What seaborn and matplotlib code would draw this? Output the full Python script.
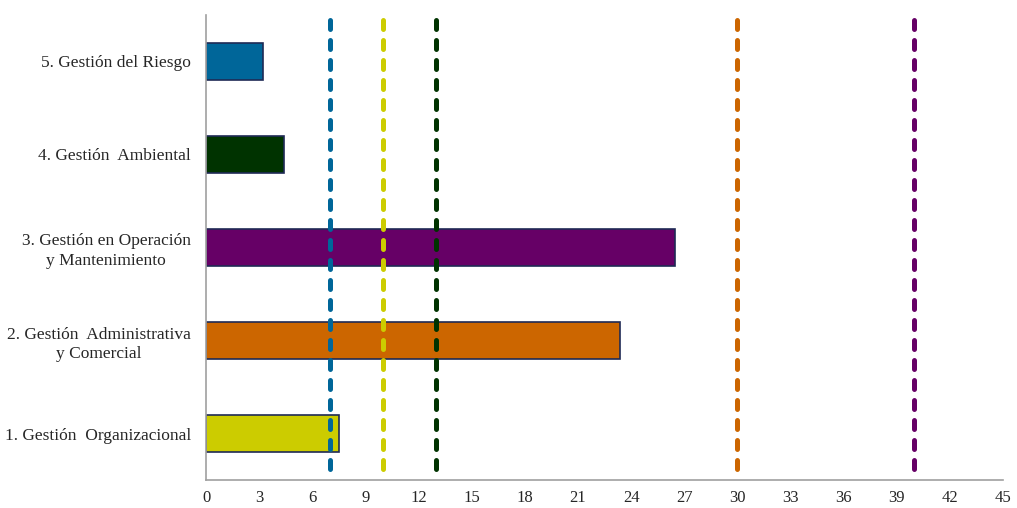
import matplotlib
matplotlib.use("Agg")
import matplotlib.pyplot as plt
import pandas as pd
import seaborn as sns

# data (top to bottom as drawn)
categories = [
    "5. Gestión del Riesgo",
    "4. Gestión  Ambiental",
    "3. Gestión en Operación\ny Mantenimiento",
    "2. Gestión  Administrativa\ny Comercial",
    "1. Gestión  Organizacional",
]
values = [3.2, 4.4, 26.5, 23.4, 7.5]
bar_colors = ["#006699", "#003300", "#660066", "#CC6600", "#CCCC00"]

# reference limits (dashed lines)
limit_values = [7, 10, 13, 30, 40]
limit_colors = ["#006699", "#CCCC00", "#003300", "#CC6600", "#660066"]

xticks = list(range(0, 46, 3))

sns.set_style("white")
plt.rcParams["font.family"] = ["Liberation Serif", "DejaVu Serif"]

df = pd.DataFrame({"categoria": categories, "valor": values})

fig = plt.figure(figsize=(10.17, 5.08), dpi=100)
ax = fig.add_axes([0.2026, 0.0551, 0.7836, 0.9154])

sns.barplot(
    data=df,
    x="valor",
    y="categoria",
    hue="categoria",
    palette=bar_colors,
    order=categories,
    hue_order=categories,
    orient="h",
    width=0.4,
    edgecolor="#1F2A55",
    linewidth=1.2,
    legend=False,
    saturation=1,
    ax=ax,
)

# drawn top to bottom so the dash pattern starts with a full dash at the top
for v, c in zip(limit_values, limit_colors):
    ax.axvline(
        v,
        color=c,
        linewidth=3.6,
        linestyle=(0, (1.8, 2.2)),
        dash_capstyle="round",
        ymin=0.99,
        ymax=0.005,
        zorder=3,
    )

ax.set_xlim(0, 45)
ax.set_ylim(4.5, -0.5)
ax.set_xticks(xticks)
ax.tick_params(axis="both", length=0, labelsize=12)
ax.tick_params(axis="x", pad=7)
ax.tick_params(axis="y", pad=11, labelsize=12.5)
for lbl in ax.get_yticklabels():
    lbl.set_horizontalalignment("right")
    lbl.set_multialignment("center")
    lbl.set_linespacing(1.3)
ax.set_xlabel("")
ax.set_ylabel("")

sns.despine(ax=ax)
for side in ("left", "bottom"):
    ax.spines[side].set_color("#A0A0A0")
    ax.spines[side].set_linewidth(1.2)

fig.savefig("out.png", dpi=100)
plt.close(fig)
